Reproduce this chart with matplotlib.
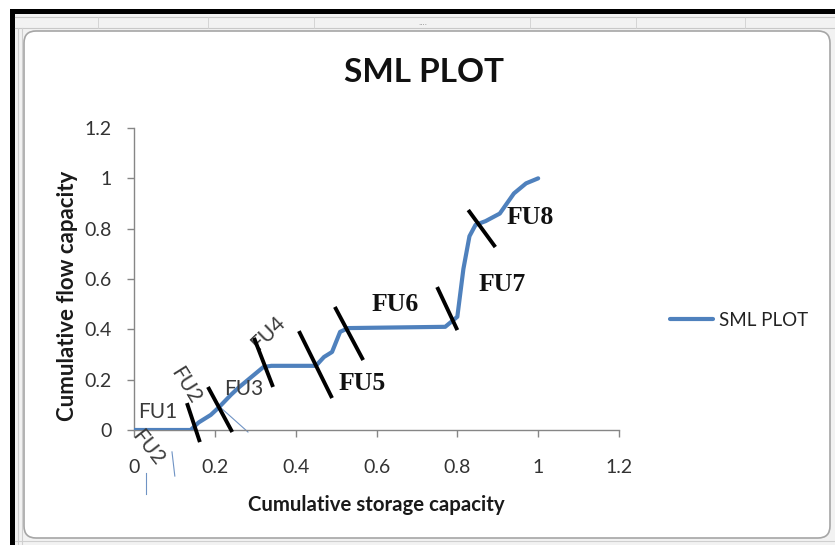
import matplotlib
matplotlib.use("Agg")
import matplotlib.pyplot as plt
from matplotlib.patches import FancyBboxPatch, Rectangle

# ---------------- data ----------------
storage = [0, 0.14, 0.16, 0.19, 0.21, 0.24, 0.26, 0.29, 0.32, 0.34, 0.45, 0.47,
           0.49, 0.51, 0.53, 0.77, 0.80, 0.815, 0.83, 0.845, 0.87, 0.905, 0.94,
           0.97, 1.0]
flow = [0, 0, 0.03, 0.06, 0.09, 0.14, 0.17, 0.21, 0.25, 0.255, 0.255, 0.29,
        0.31, 0.39, 0.405, 0.41, 0.45, 0.64, 0.77, 0.815, 0.83, 0.86, 0.94,
        0.98, 1.0]

# hand-drawn slash separators (data coordinates: x0, y0, x1, y1)
slash_x0 = [0.131, 0.183, 0.297, 0.408, 0.497, 0.750, 0.827]
slash_y0 = [0.107, 0.171, 0.366, 0.393, 0.489, 0.568, 0.874]
slash_x1 = [0.163, 0.243, 0.344, 0.490, 0.567, 0.800, 0.894]
slash_y1 = [-0.048, -0.008, 0.171, 0.127, 0.278, 0.397, 0.727]

# thin stray strokes
stray_x0 = [0.213, 0.030, 0.094]
stray_y0 = [0.091, -0.171, -0.087]
stray_x1 = [0.282, 0.030, 0.101]
stray_y1 = [-0.008, -0.254, -0.183]

# unit labels
sans_labels = ["FU1", "FU2", "FU2", "FU3", "FU4"]
sans_x = [0.058, 0.128, 0.035, 0.272, 0.332]
sans_y = [0.072, 0.175, -0.070, 0.163, 0.385]
sans_rot = [0, -58, -52, 0, 44]

serif_labels = ["FU5", "FU6", "FU7", "FU8"]
serif_x = [0.564, 0.646, 0.911, 0.980]
serif_y = [0.183, 0.497, 0.580, 0.846]

xticks = [0, 0.2, 0.4, 0.6, 0.8, 1, 1.2]
yticks = [0, 0.2, 0.4, 0.6, 0.8, 1, 1.2]
xtick_labels = ["0", "0.2", "0.4", "0.6", "0.8", "1", "1.2"]
ytick_labels = ["0", "0.2", "0.4", "0.6", "0.8", "1", "1.2"]

title = "SML PLOT"
series_name = "SML PLOT"
xlabel = "Cumulative storage capacity"
ylabel = "Cumulative flow capacity"

# ---------------- figure ----------------
W, H = 835, 545
fig = plt.figure(figsize=(W / 100, H / 100), dpi=100)
fig.patch.set_facecolor("white")

# background decoration axes in pixel coords
bg = fig.add_axes([0, 0, 1, 1], zorder=0)
bg.set_xlim(0, W)
bg.set_ylim(H, 0)
bg.axis("off")

# spreadsheet grey surround
bg.add_patch(Rectangle((15, 14), W - 15, H - 14, facecolor="#f2f2f2", edgecolor="none"))
for yy in [17, 28]:
    bg.plot([15, W], [yy, yy], color="#c8c8c8", lw=0.8)
for xx in [98, 208, 314, 530, 636, 745]:
    bg.plot([xx, xx], [17, 28], color="#d0d0d0", lw=0.6)
bg.text(423, 23, "....", ha="center", va="center", fontsize=5, color="#888888")
for xx in [18, 22]:
    bg.plot([xx, xx], [28, H], color="#cfcfcf", lw=0.8)
bg.plot([15, W], [541, 541], color="#cfcfcf", lw=0.8)
# black frame (top and left)
bg.add_patch(Rectangle((10, 9), W - 10, 5, facecolor="black", edgecolor="none"))
bg.add_patch(Rectangle((10, 9), 5, H - 9, facecolor="black", edgecolor="none"))
# chart area with rounded corners
bg.add_patch(FancyBboxPatch((24, 31), 806, 507,
                            boxstyle="round,pad=0,rounding_size=12",
                            facecolor="white", edgecolor="#a6a6a6", lw=1.2))

# ---------------- main axes ----------------
x0px, x1px = 134, 619
y0px, y1px = 430, 128
ax = fig.add_axes([x0px / W, 1 - y0px / H, (x1px - x0px) / W, (y0px - y1px) / H], zorder=2)
ax.patch.set_alpha(0)

line_color = "#4f81bd"
ax.plot(storage, flow, color=line_color, lw=3.0, solid_capstyle="round",
        solid_joinstyle="round", label=series_name, zorder=3)

for a, b, c, d in zip(stray_x0, stray_y0, stray_x1, stray_y1):
    ax.plot([a, c], [b, d], color="#6f93c4", lw=0.8, clip_on=False, zorder=2)

for a, b, c, d in zip(slash_x0, slash_y0, slash_x1, slash_y1):
    ax.plot([a, c], [b, d], color="black", lw=2.8, solid_capstyle="butt",
            clip_on=False, zorder=5)

for t, xx, yy, r in zip(sans_labels, sans_x, sans_y, sans_rot):
    ax.text(xx, yy, t, ha="center", va="center", rotation=r, fontsize=15,
            family="Lato", color="#3a3a3a", clip_on=False, zorder=4)
for t, xx, yy in zip(serif_labels, serif_x, serif_y):
    ax.text(xx, yy, t, ha="center", va="center", fontsize=18.5,
            family="Liberation Serif", fontweight="bold", color="#111111",
            clip_on=False, zorder=4)

ax.set_xlim(0, 1.2)
ax.set_ylim(0, 1.2)
ax.set_xticks(xticks)
ax.set_xticklabels(xtick_labels, family="Lato", fontsize=14, color="#333333")
ax.set_yticks(yticks)
ax.set_yticklabels(ytick_labels, family="Lato", fontsize=14, color="#333333")
for s in ["top", "right"]:
    ax.spines[s].set_visible(False)
for s in ["left", "bottom"]:
    ax.spines[s].set_color("#868686")
    ax.spines[s].set_linewidth(1.0)
ax.tick_params(axis="both", direction="out", length=5, width=1.0, color="#868686")
ax.tick_params(axis="x", pad=16)
ax.tick_params(axis="y", pad=11)

ax.set_xlabel(xlabel, family="Lato", fontweight="bold", fontsize=14.7, color="#1a1a1a")
ax.set_ylabel(ylabel, family="Lato", fontweight="bold", fontsize=16, color="#1a1a1a")
ax.xaxis.set_label_coords(0.5, (y0px - 505) / (y0px - y1px))
ax.yaxis.set_label_coords((67 - x0px) / (x1px - x0px), (y0px - 296) / (y0px - y1px))
ax.xaxis.label.set_va("center")
ax.yaxis.label.set_va("center")

fig.text(424 / W, 1 - 73 / H, title, ha="center", va="center", family="Lato",
         fontweight="bold", fontsize=24, color="#111111")

# legend
leg = ax.legend(loc="center left", bbox_to_anchor=(662 / W, 1 - 320 / H),
                bbox_transform=fig.transFigure, frameon=False,
                prop={"family": "Lato", "size": 13.5}, handlelength=2.3,
                handletextpad=0.35, borderaxespad=0)
for txt in leg.get_texts():
    txt.set_color("#222222")

fig.savefig("out.png", dpi=100)
